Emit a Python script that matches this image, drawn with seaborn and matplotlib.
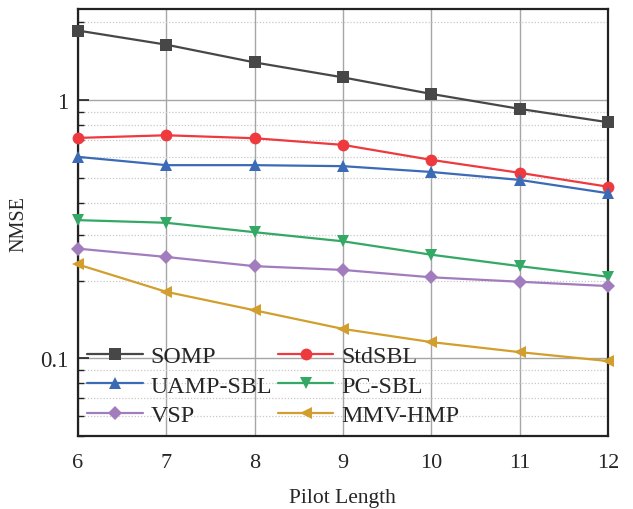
import numpy as np
import pandas as pd
import matplotlib
matplotlib.use("Agg")
import matplotlib.pyplot as plt
import seaborn as sns
from matplotlib.ticker import LogLocator, FixedFormatter, NullFormatter, FixedLocator

# Pilot lengths on the x axis
pilot_length = [6, 7, 8, 9, 10, 11, 12]

# NMSE of each estimator
somp = [1.86, 1.64, 1.40, 1.225, 1.057, 0.925, 0.821]
std_sbl = [0.714, 0.731, 0.712, 0.671, 0.587, 0.523, 0.462]
uamp_sbl = [0.603, 0.560, 0.560, 0.555, 0.527, 0.491, 0.436]
pc_sbl = [0.343, 0.335, 0.308, 0.284, 0.252, 0.2275, 0.207]
vsp = [0.266, 0.247, 0.2275, 0.220, 0.206, 0.198, 0.1905]
mmv_hmp = [0.231, 0.181, 0.1535, 0.130, 0.1156, 0.1057, 0.0976]

methods = ["SOMP", "StdSBL", "UAMP-SBL", "PC-SBL", "VSP", "MMV-HMP"]
series = [somp, std_sbl, uamp_sbl, pc_sbl, vsp, mmv_hmp]

df = pd.DataFrame({
    "Pilot Length": np.tile(pilot_length, len(methods)),
    "NMSE": np.concatenate(series),
    "Method": np.repeat(methods, len(pilot_length)),
})

palette = {
    "SOMP": "#474747",
    "StdSBL": "#ee3a3e",
    "UAMP-SBL": "#3b6bb6",
    "PC-SBL": "#34a865",
    "VSP": "#a27dbd",
    "MMV-HMP": "#d29f2e",
}
markers = {
    "SOMP": "s",
    "StdSBL": "o",
    "UAMP-SBL": "^",
    "PC-SBL": "v",
    "VSP": "D",
    "MMV-HMP": "<",
}

sns.set_theme(style="white")
plt.rcParams["font.family"] = ["Liberation Serif", "DejaVu Serif"]
plt.rcParams["mathtext.fontset"] = "stix"

fig = plt.figure(figsize=(6.33, 5.10), dpi=100)
ax = fig.add_axes([0.123, 0.143, 0.8375, 0.837])

sns.lineplot(
    data=df, x="Pilot Length", y="NMSE", hue="Method", style="Method",
    hue_order=methods, style_order=methods,
    palette=palette, markers=markers, dashes=False,
    linewidth=1.6, markersize=8.5, markeredgewidth=0,
    ax=ax, zorder=3, clip_on=False,
)
# diamonds look larger than the other markers, shrink them a bit
for line in ax.get_lines():
    if line.get_marker() == "D":
        line.set_markersize(7)

ax.set_yscale("log")
ax.set_xlim(6, 12)
ax.set_ylim(0.05, 2.25)

ax.yaxis.set_major_locator(FixedLocator([0.1, 1]))
ax.yaxis.set_major_formatter(FixedFormatter(["0.1", "1"]))
ax.yaxis.set_minor_locator(LogLocator(base=10, subs=np.arange(2, 10)))
ax.yaxis.set_minor_formatter(NullFormatter())
ax.set_xticks(pilot_length)

ax.grid(True, which="major", axis="both", color="#a6a6a6", linewidth=1.0, linestyle="-", zorder=0)
ax.grid(True, which="minor", axis="y", color="#c8c8c8", linewidth=0.9, linestyle=(0, (1, 1.5)), zorder=0)
ax.set_axisbelow(True)

ax.tick_params(axis="y", which="major", direction="in", length=8, width=1.2, color="#222222",
               labelsize=16.5, pad=7, left=True, right=False)
ax.tick_params(axis="y", which="minor", direction="in", length=4, width=1.0, color="#222222",
               left=True, right=False)
ax.tick_params(axis="x", which="major", direction="in", length=0, labelsize=16, pad=12)

for side in ["left", "right", "top", "bottom"]:
    ax.spines[side].set_visible(True)
    ax.spines[side].set_color("#222222")
    ax.spines[side].set_linewidth(1.6)

ax.set_xlabel("Pilot Length", fontsize=15.5, labelpad=12)
ax.set_ylabel("NMSE", fontsize=14.5, labelpad=8)

# two-column legend filled row by row
handles, labels = ax.get_legend_handles_labels()
lookup = dict(zip(labels, handles))
order = ["SOMP", "UAMP-SBL", "VSP", "StdSBL", "PC-SBL", "MMV-HMP"]
ax.legend(
    [lookup[k] for k in order], order, ncol=2, loc="lower left", bbox_to_anchor=(0.0, 0.0),
    frameon=False, fontsize=17.3, handlelength=2.3, handletextpad=0.32,
    columnspacing=0.25, labelspacing=0.33, borderaxespad=0.0,
)

fig.savefig("out.png", dpi=100)
